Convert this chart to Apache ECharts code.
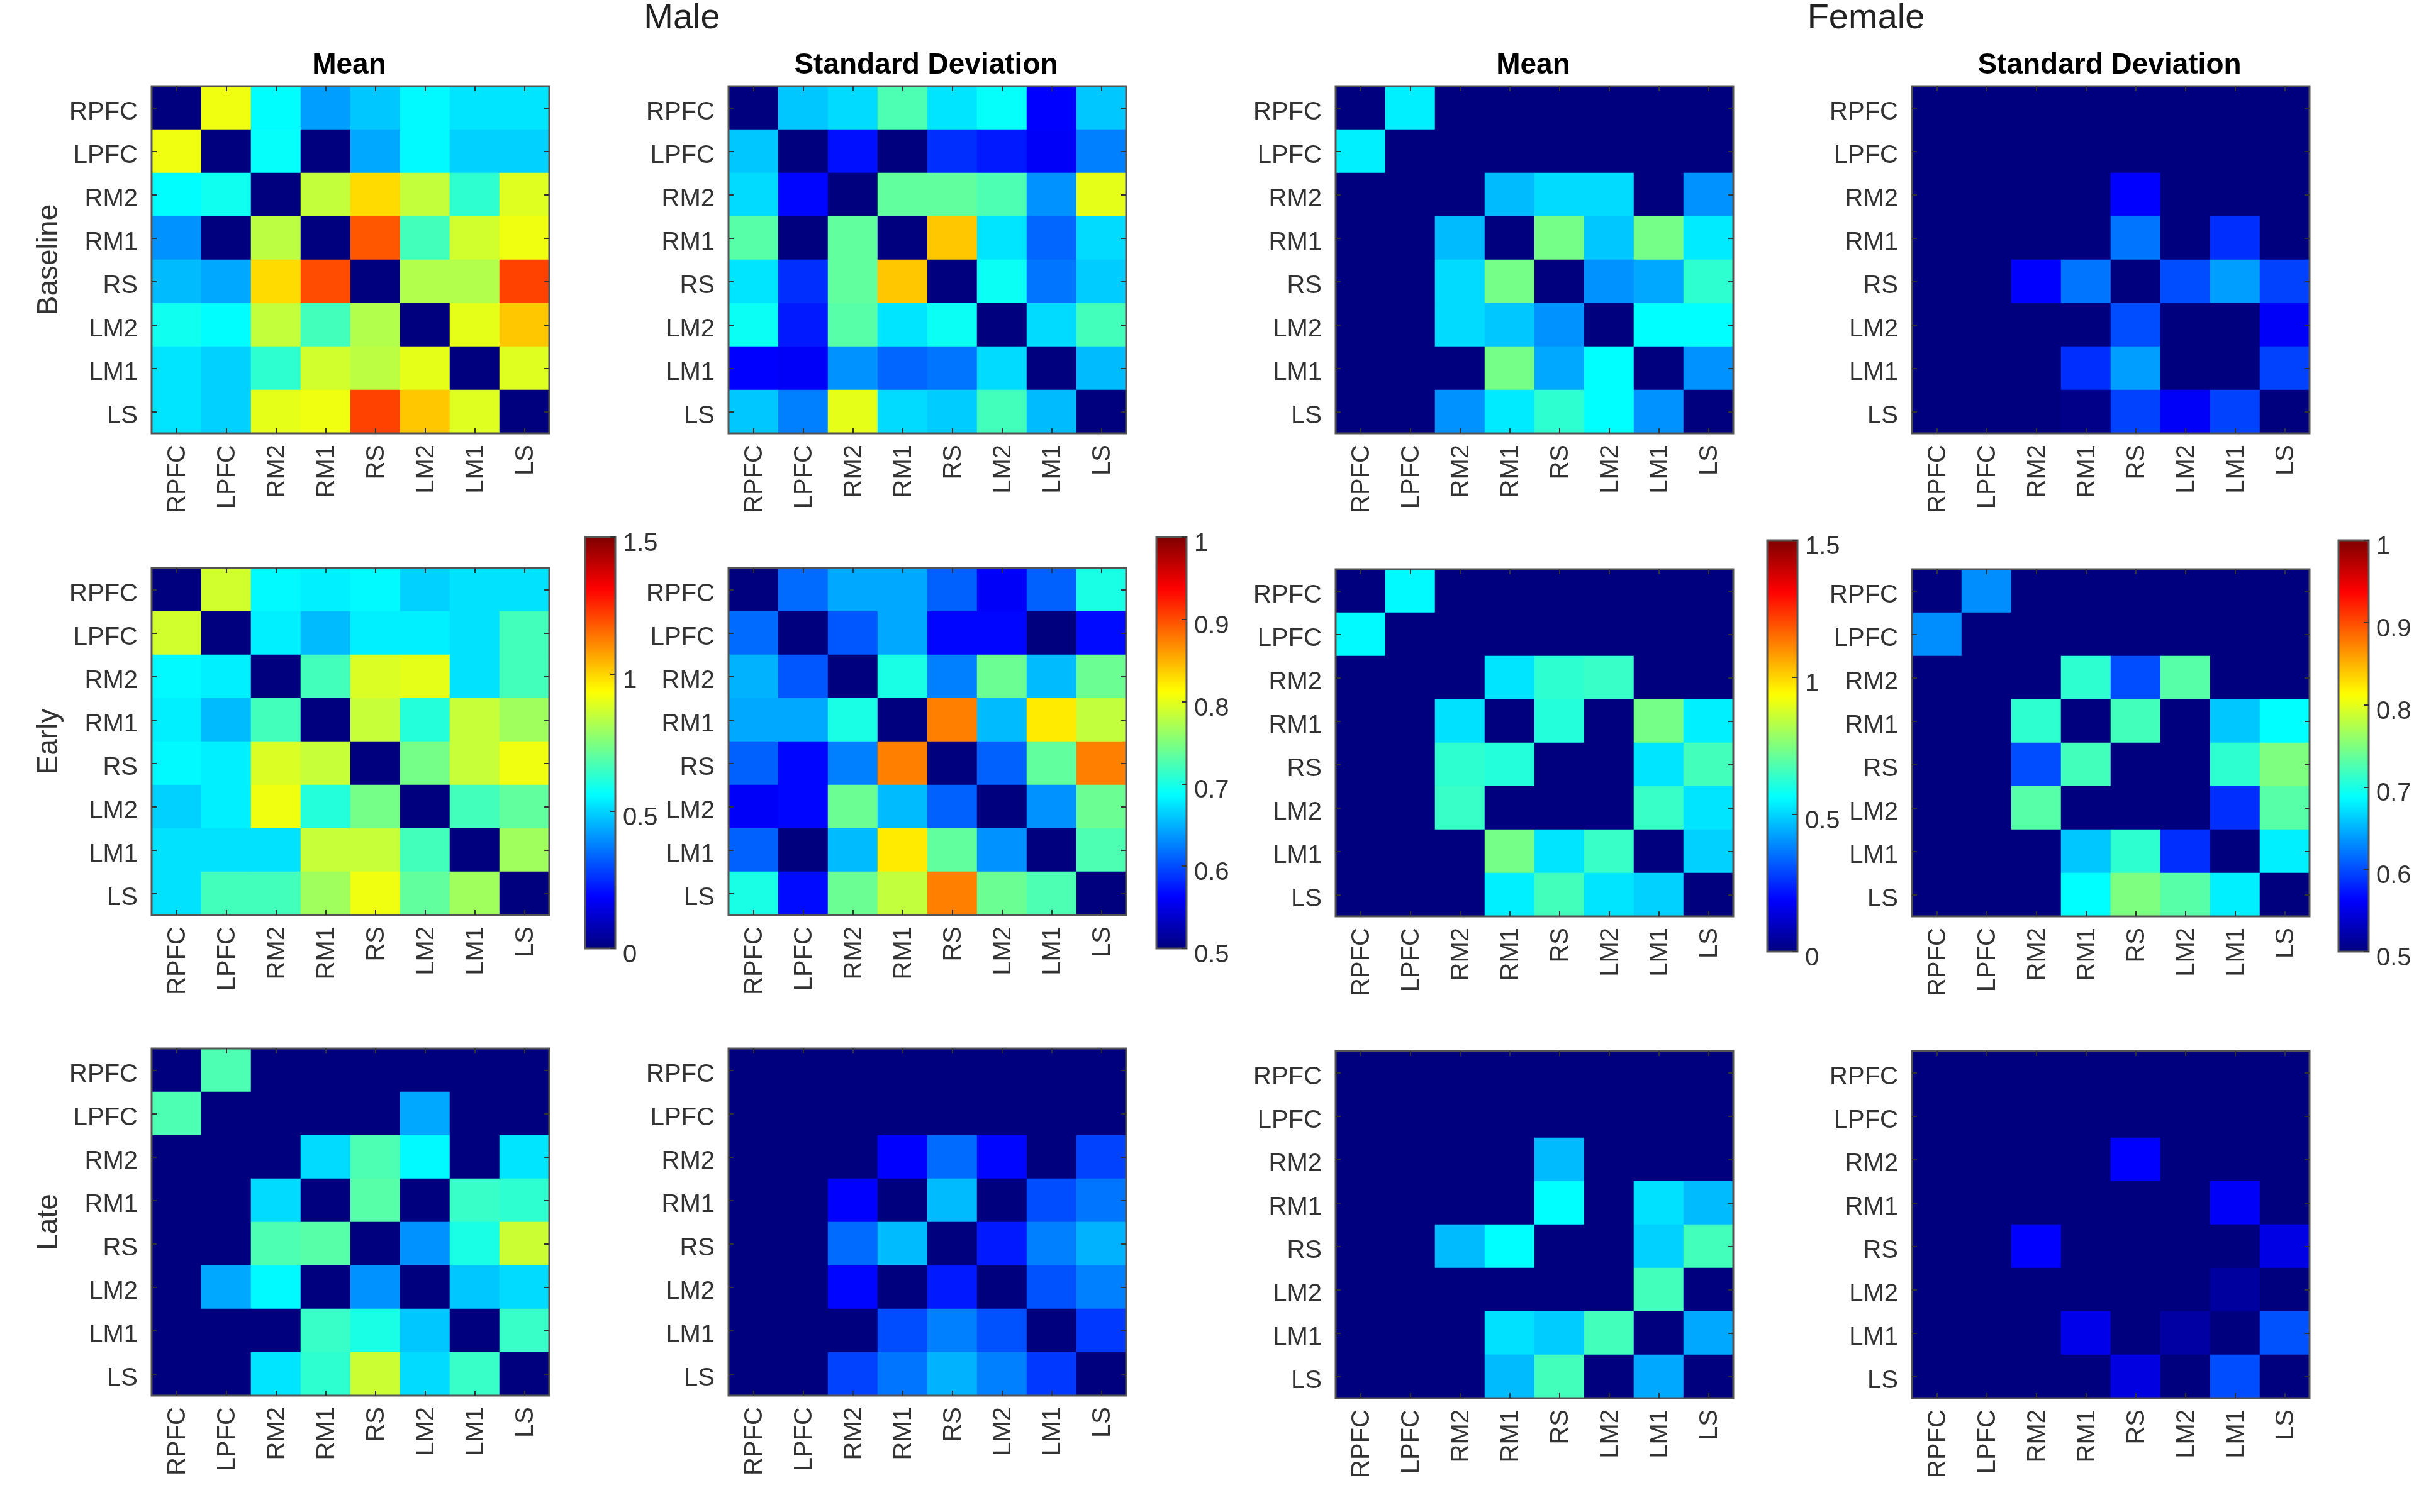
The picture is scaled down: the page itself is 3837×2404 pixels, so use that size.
<!DOCTYPE html>
<html>
<head>
<meta charset="utf-8">
<title>Male / Female connectivity matrices</title>
<script src="https://cdn.jsdelivr.net/npm/echarts@6/dist/echarts.min.js"></script>
<style>
  html, body { margin: 0; padding: 0; background: #fff; }
  #chart { width: 3837px; height: 2404px; }
</style>
</head>
<body>
<div id="chart"></div>
<script>
// regions, same order on both axes
const regions = ["RPFC", "LPFC", "RM2", "RM1", "RS", "LM2", "LM1", "LS"];
const phases = ["Baseline", "Early", "Late"];
const meanTicks = { min: 0, max: 1.5, interval: 0.5 };
const sdTicks = { min: 0.5, max: 1, interval: 0.1 };

const maleBaselineMean = [
  [0, .915, .56, .42, .48, .555, .525, .525],
  [.915, 0, .57, 0, .435, .555, .495, .495],
  [.56, .585, 0, .85, .99, .85, .63, .89],
  [.405, 0, .84, 0, 1.185, .66, .87, .915],
  [.465, .435, .99, 1.2, 0, .825, .825, 1.215],
  [.585, .56, .85, .66, .825, 0, .9, 1.02],
  [.525, .495, .63, .87, .84, .9, 0, .89],
  [.525, .495, .9, .915, 1.215, 1.02, .89, 0]
];
const maleBaselineSd = [
  [.5, .66, .67, .725, .675, .69, .5625, .66],
  [.66, .5, .57, .5, .585, .575, .56, .625],
  [.67, .565, .5, .735, .735, .725, .635, .8],
  [.73, .5, .735, .5, .84, .675, .6125, .67],
  [.675, .585, .735, .84, .5, .6925, .62, .6625],
  [.6925, .575, .73, .675, .6925, .5, .67, .72],
  [.5625, .56, .635, .6125, .62, .67, .5, .655],
  [.66, .625, .8, .67, .6625, .72, .655, .5]
];
const maleEarlyMean = [
  [0, .87, .555, .54, .555, .495, .52, .52],
  [.87, 0, .54, .465, .54, .54, .52, .66],
  [.555, .54, 0, .66, .885, .9, .52, .66],
  [.54, .465, .66, 0, .855, .615, .855, .8],
  [.555, .54, .885, .855, 0, .735, .855, .915],
  [.495, .54, .915, .615, .735, 0, .66, .705],
  [.52, .52, .52, .855, .855, .66, 0, .8],
  [.52, .66, .66, .8, .915, .705, .8, 0]
];
const maleEarlySd = [
  [.5, .615, .645, .645, .61, .56, .61, .7],
  [.615, .5, .605, .645, .565, .565, .5, .5675],
  [.65, .605, .5, .7, .625, .74, .655, .74],
  [.645, .645, .7, .5, .875, .655, .8225, .7825],
  [.61, .565, .625, .875, .5, .61, .735, .875],
  [.56, .565, .74, .655, .61, .5, .635, .74],
  [.61, .5, .655, .8225, .735, .635, .5, .725],
  [.7, .5675, .74, .7825, .875, .74, .725, .5]
];
const maleLateMean = [
  [0, .675, 0, 0, 0, 0, 0, 0],
  [.675, 0, 0, 0, 0, .435, 0, 0],
  [0, 0, 0, .51, .675, .555, 0, .525],
  [0, 0, .51, 0, .69, 0, .645, .63],
  [0, 0, .675, .69, 0, .405, .6, .8625],
  [0, .435, .555, 0, .405, 0, .48, .51],
  [0, 0, 0, .645, .6, .48, 0, .645],
  [0, 0, .525, .63, .8625, .51, .645, 0]
];
const maleLateSd = [
  [.5, .5, .5, .5, .5, .5, .5, .5],
  [.5, .5, .5, .5, .5, .5, .5, .5],
  [.5, .5, .5, .5625, .615, .565, .5, .595],
  [.5, .5, .5625, .5, .655, .5, .6, .62],
  [.5, .5, .615, .655, .5, .575, .625, .65],
  [.5, .5, .565, .5, .575, .5, .6025, .625],
  [.5, .5, .5, .6, .625, .6025, .5, .59],
  [.5, .5, .595, .62, .65, .625, .59, .5]
];
const femaleBaselineMean = [
  [0, .54, 0, 0, 0, 0, 0, 0],
  [.54, 0, 0, 0, 0, 0, 0, 0],
  [0, 0, 0, .465, .51, .51, 0, .405],
  [0, 0, .465, 0, .735, .48, .735, .5325],
  [0, 0, .51, .735, 0, .405, .435, .63],
  [0, 0, .51, .48, .405, 0, .5625, .5625],
  [0, 0, 0, .735, .435, .5625, 0, .405],
  [0, 0, .405, .5325, .63, .5625, .405, 0]
];
const femaleBaselineSd = [
  [.5, .5, .5, .5, .5, .5, .5, .5],
  [.5, .5, .5, .5, .5, .5, .5, .5],
  [.5, .5, .5, .5, .5625, .5, .5, .5],
  [.5, .5, .5, .5, .62, .5, .585, .5],
  [.5, .5, .5625, .62, .5, .6, .64, .595],
  [.5, .5, .5, .5, .6, .5, .5, .56],
  [.5, .5, .5, .585, .64, .5, .5, .595],
  [.5, .5, .5, .505, .595, .56, .595, .5]
];
const femaleEarlyMean = [
  [0, .555, 0, 0, 0, 0, 0, 0],
  [.555, 0, 0, 0, 0, 0, 0, 0],
  [0, 0, 0, .525, .63, .645, 0, 0],
  [0, 0, .5175, 0, .615, 0, .735, .54],
  [0, 0, .63, .615, 0, 0, .525, .66],
  [0, 0, .645, 0, 0, 0, .645, .525],
  [0, 0, 0, .735, .525, .645, 0, .495],
  [0, 0, 0, .54, .66, .525, .495, 0]
];
const femaleEarlySd = [
  [.5, .6325, .5, .5, .5, .5, .5, .5],
  [.6325, .5, .5, .5, .5, .5, .5, .5],
  [.5, .5, .5, .71, .6, .73, .5, .5],
  [.5, .5, .71, .5, .72, .5, .66, .6875],
  [.5, .5, .6, .72, .5, .5, .71, .75],
  [.5, .5, .73, .5, .5, .5, .585, .73],
  [.5, .5, .5, .66, .71, .585, .5, .68],
  [.5, .5, .5, .6875, .75, .73, .68, .5]
];
const femaleLateMean = [
  [0, 0, 0, 0, 0, 0, 0, 0],
  [0, 0, 0, 0, 0, 0, 0, 0],
  [0, 0, 0, 0, .465, 0, 0, 0],
  [0, 0, 0, 0, .5625, 0, .5175, .465],
  [0, 0, .465, .5625, 0, 0, .495, .66],
  [0, 0, 0, 0, 0, 0, .66, 0],
  [0, 0, 0, .5175, .4875, .66, 0, .435],
  [0, 0, 0, .465, .66, 0, .435, 0]
];
const femaleLateSd = [
  [.5, .5, .5, .5, .5, .5, .5, .5],
  [.5, .5, .5, .5, .5, .5, .5, .5],
  [.5, .5, .5, .5, .5625, .5, .5, .5],
  [.5, .5, .5, .5, .5, .5, .56, .5],
  [.5, .5, .5625, .5, .5, .5, .5, .55],
  [.5, .5, .5, .5, .5, .5, .515, .5],
  [.5, .5, .5, .5525, .5, .5175, .5, .6025],
  [.5, .5, .5, .5, .5475, .5, .6, .5]
];

const panels = [
  [maleBaselineMean, maleBaselineSd, femaleBaselineMean, femaleBaselineSd],
  [maleEarlyMean, maleEarlySd, femaleEarlyMean, femaleEarlySd],
  [maleLateMean, maleLateSd, femaleLateMean, femaleLateSd]
];

// MATLAB jet, evenly spaced stops
const jet = ["#00007f", "#0000ff", "#007fff", "#00ffff", "#7fff7f", "#ffff00", "#ff7f00", "#ff0000", "#7f0000"];

// layout in page pixels. Panel size divides by 8 so cells land on whole pixels, no seams
const colLeft = [241, 1158, 2123, 3039];
const rowTop = [[137, 903, 1667], [137, 903, 1667], [137, 905, 1671], [137, 905, 1671]];
const panelW = 632;
const panelH = 552;
const barLeft = [930, 1838, 2809, 3717];
const barTop = [854, 854, 859, 859];
const barW = 48;
const barH = 654;

const font = "Liberation Sans";
const textColor = "#333333";
const edgeColor = "#555555";

const grid = [], xAxis = [], yAxis = [], series = [], visualMap = [];

function tickStyle() {
  return { show: true, inside: true, alignWithLabel: true, length: 8, lineStyle: { color: "#333333", width: 2 } };
}

phases.forEach((phase, r) => {
  colLeft.forEach((left, c) => {
    const g = grid.length;
    grid.push({
      left, top: rowTop[c][r], width: panelW, height: panelH, show: true, z: 5,
      backgroundColor: "transparent", borderColor: edgeColor, borderWidth: 3
    });
    // bottom / left axes carry the labels, top / right ones only the ticks.
    // verticalAlign top + small lineHeight nudges the labels off the tick, like the original
    xAxis.push({
      type: "category", gridIndex: g, data: regions, position: "bottom", z: 6,
      axisLine: { show: false }, axisTick: tickStyle(), splitLine: { show: false },
      axisLabel: { interval: 0, rotate: 90, margin: 18, verticalAlign: "top", lineHeight: 5, fontFamily: font, fontSize: 40, color: textColor }
    });
    xAxis.push({
      type: "category", gridIndex: g, data: regions, position: "top", z: 6,
      axisLine: { show: false }, axisTick: tickStyle(), axisLabel: { show: false }, splitLine: { show: false }
    });
    yAxis.push({
      type: "category", gridIndex: g, data: regions, inverse: true, position: "left", z: 6,
      name: c === 0 ? phase : "", nameLocation: "middle", nameRotate: 90, nameGap: 140,
      nameTextStyle: { fontFamily: font, fontSize: 46, color: textColor },
      axisLine: { show: false }, axisTick: tickStyle(), splitLine: { show: false },
      axisLabel: { interval: 0, margin: 22, verticalAlign: "top", lineHeight: 14, fontFamily: font, fontSize: 40, color: textColor }
    });
    yAxis.push({
      type: "category", gridIndex: g, data: regions, inverse: true, position: "right", z: 6,
      axisLine: { show: false }, axisTick: tickStyle(), axisLabel: { show: false }, splitLine: { show: false }
    });
    series.push({
      type: "heatmap",
      xAxisIndex: g * 2,
      yAxisIndex: g * 2,
      silent: true,
      progressive: 0,
      itemStyle: { borderWidth: 0 },
      data: panels[r][c].flatMap((row, y) => row.map((v, x) => [x, y, v]))
    });
  });
});

// one colour bar per column, shared by the three rows of that column
colLeft.forEach((left, c) => {
  const ticks = c % 2 === 0 ? meanTicks : sdTicks;
  visualMap.push({
    type: "continuous", min: ticks.min, max: ticks.max, dimension: 2,
    seriesIndex: [c, c + 4, c + 8], calculable: false, hoverLink: false, text: null, padding: 0,
    left: barLeft[c], top: barTop[c], itemWidth: barW, itemHeight: barH,
    inRange: { color: jet }
  });
  const g = grid.length;
  grid.push({
    left: barLeft[c], top: barTop[c], width: barW, height: barH, show: true, z: 6,
    backgroundColor: "transparent", borderColor: edgeColor, borderWidth: 3
  });
  xAxis.push({ type: "category", gridIndex: g, data: [""], show: false });
  yAxis.push({
    type: "value", gridIndex: g, position: "right", z: 7,
    min: ticks.min, max: ticks.max, interval: ticks.interval,
    axisLine: { show: false }, splitLine: { show: false },
    axisTick: { show: true, inside: true, length: 8, lineStyle: { color: "#333333", width: 2 } },
    axisLabel: { margin: 12, verticalAlign: "top", lineHeight: 22, fontFamily: font, fontSize: 40, color: textColor }
  });
});

const headStyle = { fontFamily: font, fontSize: 56, fontWeight: "normal", color: "#222222" };
const colStyle = { fontFamily: font, fontSize: 46, fontWeight: "bold", color: "#000000" };
const colNames = ["Mean", "Standard Deviation", "Mean", "Standard Deviation"];

const title = [
  { text: "Male", left: 1084, top: 2, textAlign: "center", textStyle: headStyle, padding: 0 },
  { text: "Female", left: 2966, top: 2, textAlign: "center", textStyle: headStyle, padding: 0 }
].concat(colNames.map((text, c) => ({
  text, left: colLeft[c] + panelW / 2 - 2, top: 81, textAlign: "center", textStyle: colStyle, padding: 0
})));

const chart = echarts.init(document.getElementById("chart"), null, { renderer: "canvas" });
chart.setOption({
  animation: false,
  backgroundColor: "#ffffff",
  title, grid, xAxis, yAxis, visualMap, series
});
</script>
</body>
</html>
